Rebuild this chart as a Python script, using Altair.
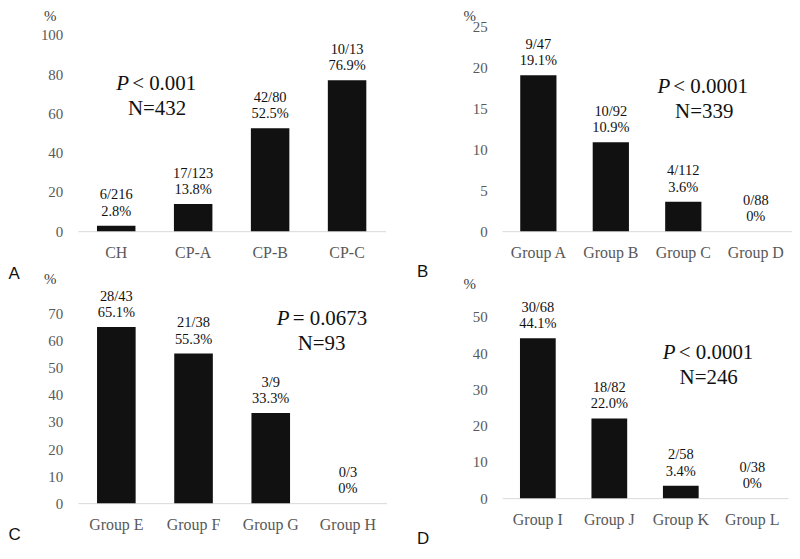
import altair as alt
import pandas as pd

# ---- data ----
a_cats = ["CH", "CP-A", "CP-B", "CP-C"]
a_vals = [2.8, 13.8, 52.5, 76.9]
a_counts = ["6/216", "17/123", "42/80", "10/13"]
a_pcts = ["2.8%", "13.8%", "52.5%", "76.9%"]

b_cats = ["Group A", "Group B", "Group C", "Group D"]
b_vals = [19.1, 10.9, 3.6, 0]
b_counts = ["9/47", "10/92", "4/112", "0/88"]
b_pcts = ["19.1%", "10.9%", "3.6%", "0%"]

c_cats = ["Group E", "Group F", "Group G", "Group H"]
c_vals = [65.1, 55.3, 33.3, 0]
c_counts = ["28/43", "21/38", "3/9", "0/3"]
c_pcts = ["65.1%", "55.3%", "33.3%", "0%"]

d_cats = ["Group I", "Group J", "Group K", "Group L"]
d_vals = [44.1, 22.0, 3.4, 0]
d_counts = ["30/68", "18/82", "2/58", "0/38"]
d_pcts = ["44.1%", "22.0%", "3.4%", "0%"]

p_texts = ["< 0.001", "< 0.0001", "= 0.0673", "< 0.0001"]
n_texts = ["N=432", "N=339", "N=93", "N=246"]
letters = ["A", "B", "C", "D"]

a_ticks = [0, 20, 40, 60, 80, 100]
b_ticks = [0, 5, 10, 15, 20, 25]
c_ticks = [0, 10, 20, 30, 40, 50, 60, 70]
d_ticks = [0, 10, 20, 30, 40, 50]

SERIF = "Liberation Serif"
SANS = "Liberation Sans"
LABEL_GRAY = "#595959"
LINE_H = 16.5


def panel(cats, vals, counts, pcts, ptxt, ntxt, letter, ticks, width, height,
          yrange, p_anchor, p_dx, p_y, n_dx, n_y, pct_x, pct_y, let_x, let_y):
    bars_df = pd.DataFrame({
        "cat": cats,
        "val": vals,
        "label": [f"{c}\n{p}" for c, p in zip(counts, pcts)],
    })
    p_df = pd.DataFrame({"cat": [p_anchor], "val": [p_y], "txt": [ptxt]})
    n_df = pd.DataFrame({"cat": [p_anchor], "val": [n_y], "txt": [ntxt]})

    x = alt.X(
        "cat:N", sort=cats,
        scale=alt.Scale(paddingInner=0.5, paddingOuter=0.25),
        axis=alt.Axis(
            title=letter, labelAngle=0, labelFont=SERIF, labelFontSize=16,
            labelColor=LABEL_GRAY, labelPadding=13, ticks=False, tickSize=0,
            domainColor="#d9d9d9", domainWidth=1, grid=False,
            titleFont=SANS, titleFontSize=17, titleFontWeight="normal",
            titleColor="#111111", titleX=let_x, titleY=let_y,
            titleAlign="left", titleBaseline="alphabetic",
        ),
    )
    sc = dict(domain=[ticks[0], ticks[-1]], nice=False, zero=True)
    if yrange is not None:
        sc["range"] = yrange
    y = alt.Y(
        "val:Q", scale=alt.Scale(**sc),
        axis=alt.Axis(
            values=ticks, title="%", titleAngle=0, titleFont=SERIF,
            titleFontSize=15, titleFontWeight="normal", titleColor="#404040",
            titleX=pct_x, titleY=pct_y, titleAlign="center",
            titleBaseline="alphabetic", grid=False, domain=False, ticks=False,
            tickSize=0, labelPadding=15, labelFont=SERIF, labelFontSize=15,
            labelColor=LABEL_GRAY,
        ),
    )

    bars = alt.Chart(bars_df).mark_bar(color="#111111").encode(x=x, y=y)
    labels = alt.Chart(bars_df).mark_text(
        font=SERIF, fontSize=14.5, color="#111111", baseline="bottom",
        align="center", lineBreak="\n", lineHeight=LINE_H, dy=-7 - LINE_H,
    ).encode(x=x, y=y, text="label:N")
    p_mark = alt.Chart(p_df).mark_text(
        text="P", font=SERIF, fontSize=21, fontStyle="italic", color="#111111",
        align="left", baseline="alphabetic", dx=p_dx,
    ).encode(x=x, y=y)
    rest_mark = alt.Chart(p_df).mark_text(
        font=SERIF, fontSize=21, color="#111111",
        align="left", baseline="alphabetic", dx=p_dx + 16,
    ).encode(x=x, y=y, text="txt:N")
    n_mark = alt.Chart(n_df).mark_text(
        font=SERIF, fontSize=21, color="#111111",
        align="center", baseline="alphabetic", dx=n_dx,
    ).encode(x=x, y=y, text="txt:N")

    return alt.layer(bars, labels, p_mark, rest_mark, n_mark).properties(
        width=width, height=height
    )


pa = panel(a_cats, a_vals, a_counts, a_pcts, p_texts[0], n_texts[0], letters[0],
           a_ticks, 309, 205, [205, 8], "CH", 0, 71.7, 41, 59.4,
           -28, -6, -70, 48)
pb = panel(b_cats, b_vals, b_counts, b_pcts, p_texts[1], n_texts[1], letters[1],
           b_ticks, 291, 205, None, "Group C", -26, 16.9, 21, 13.9,
           -33, -6, -86, 45)
pc = panel(c_cats, c_vals, c_counts, c_pcts, p_texts[2], n_texts[2], letters[2],
           c_ticks, 310, 190, None, "Group G", 6, 65.9, 51, 56.7,
           -28, -30, -70, 37)
pd_ = panel(d_cats, d_vals, d_counts, d_pcts, p_texts[3], n_texts[3], letters[3],
            d_ticks, 287, 185, [185, 3], "Group K", -18, 38.4, 28, 31.5,
            -33, -25, -86, 46)

chart = alt.concat(
    pa, pb, pc, pd_, columns=2, spacing={"row": 83, "column": 116},
    bounds="flush",
).properties(padding=0, background="white").configure_view(stroke=None)

chart.save("out.html", embed_options={"renderer": "svg", "actions": False})
